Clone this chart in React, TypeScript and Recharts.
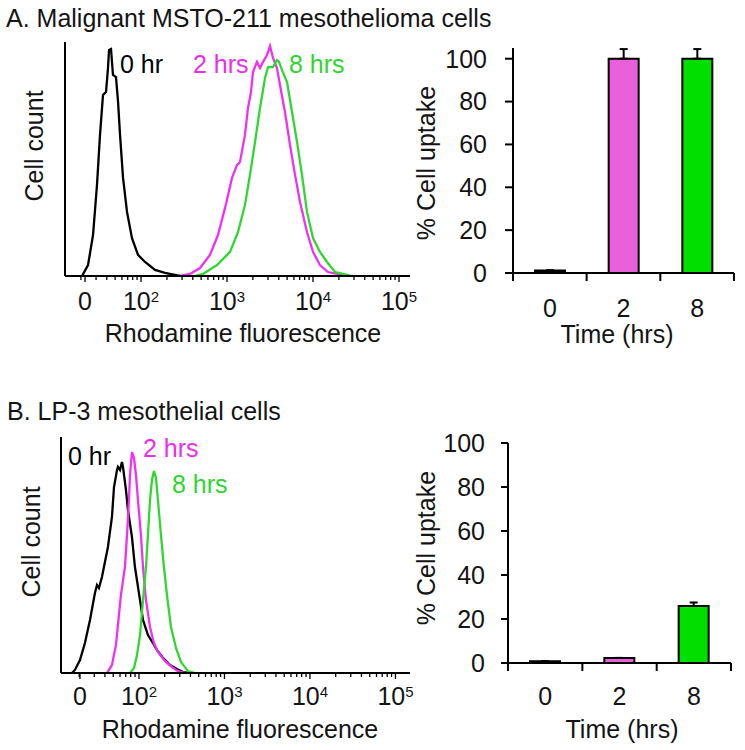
import React from 'react';
import { LineChart, Line, XAxis, YAxis, BarChart, Bar, Cell, ErrorBar } from 'recharts';

const FONT = '"Liberation Sans", Arial, Helvetica, sans-serif';
const INK = '#141414';
const FS = 25;

// Flow histograms: x is the display position in decades (2 = 10^2 ...), y = % of peak height
// Panel A, MSTO-211
const a0hrX = [1.314, 1.384, 1.442, 1.488, 1.523, 1.558, 1.593, 1.616, 1.628, 1.651, 1.674, 1.709, 1.733, 1.756, 1.791, 1.837, 1.895, 1.965, 2.047, 2.163, 2.279, 2.453];
const a0hrY = [0, 4.7, 17.5, 38.9, 60.3, 77.4, 78.6, 88.9, 96.6, 97.0, 85.9, 85.0, 74.4, 60.3, 41.9, 27.4, 16.2, 9.0, 6.0, 2.6, 1.3, 0];
const a2hrX = [2.453, 2.57, 2.686, 2.802, 2.895, 2.977, 3.058, 3.116, 3.151, 3.209, 3.244, 3.279, 3.302, 3.349, 3.384, 3.419, 3.465, 3.5, 3.535, 3.581, 3.616, 3.674, 3.733, 3.791, 3.849, 3.93, 4.0, 4.081, 4.174, 4.279, 4.372];
const a2hrY = [0, 0.9, 3.4, 9.0, 17.5, 29.1, 41.9, 47.4, 48.7, 60.3, 71.8, 78.6, 87.2, 91.5, 88.9, 91.5, 94.4, 98.3, 93.2, 88.9, 81.6, 70.1, 56.0, 43.2, 31.6, 18.8, 10.3, 4.7, 1.7, 0.9, 0];
const a8hrX = [2.628, 2.721, 2.884, 3.035, 3.128, 3.209, 3.267, 3.326, 3.384, 3.442, 3.477, 3.535, 3.581, 3.605, 3.64, 3.698, 3.756, 3.814, 3.872, 3.93, 4.0, 4.081, 4.163, 4.256, 4.349, 4.453];
const a8hrY = [0, 0.9, 4.7, 10.3, 18.8, 30.3, 43.2, 57.3, 71.8, 84.6, 89.3, 89.3, 92.3, 91.5, 88.0, 82.9, 70.1, 57.3, 43.2, 27.4, 16.2, 10.3, 6.0, 1.7, 0.9, 0];

// Panel B, LP-3
const b0hrX = [1.216, 1.251, 1.31, 1.368, 1.427, 1.485, 1.509, 1.532, 1.567, 1.602, 1.637, 1.684, 1.708, 1.743, 1.754, 1.778, 1.801, 1.813, 1.848, 1.871, 1.918, 1.953, 2.012, 2.047, 2.105, 2.164, 2.211, 2.281, 2.363, 2.444, 2.515, 2.596];
const b0hrY = [0, 1.3, 5.5, 12.7, 22.5, 33.9, 37.3, 36.0, 40.7, 47.0, 53.4, 66.1, 78.8, 86.0, 87.3, 86.0, 89.4, 87.3, 77.5, 69.1, 57.6, 44.9, 30.9, 22.5, 16.1, 12.7, 9.7, 6.4, 3.4, 1.7, 0.4, 0];
const b2hrX = [1.626, 1.684, 1.731, 1.754, 1.789, 1.836, 1.86, 1.883, 1.895, 1.918, 1.942, 1.965, 1.988, 2.023, 2.047, 2.082, 2.129, 2.175, 2.222, 2.304, 2.386, 2.456, 2.538];
const b2hrY = [0, 3.4, 11.9, 20.3, 33.1, 44.9, 58.5, 73.3, 83.9, 93.6, 91.1, 83.9, 73.3, 58.5, 44.9, 30.9, 19.5, 12.7, 8.9, 5.1, 2.5, 0.8, 0];
const b8hrX = [1.895, 1.942, 1.977, 2.012, 2.047, 2.082, 2.105, 2.129, 2.152, 2.175, 2.199, 2.222, 2.257, 2.292, 2.327, 2.374, 2.433, 2.491, 2.573, 2.655];
const b8hrY = [0, 2.1, 7.6, 16.1, 30.9, 44.9, 58.5, 73.3, 81.8, 85.6, 82.6, 73.3, 58.5, 44.9, 33.1, 19.5, 10.6, 4.7, 0.8, 0];

// Uptake bars
const timeCats = ['0', '2', '8'];
const uptakeA = [1.2, 100, 100];
const uptakeErrA = [0, 4.5, 4.5];
const uptakeB = [0.8, 2.3, 25.9];
const uptakeErrB = [0, 0, 1.6];
const uptakeTicks = [0, 20, 40, 60, 80, 100];

const decadeExps = [2, 3, 4, 5];
const zeroPosA = 1.349;
const zeroPosB = 1.31;

const lineColors = ['#000000', '#f032f0', '#2fd82f'];
const barColors = ['#000000', '#ea5fdb', '#00e000'];

const zip = (xs: number[], ys: number[]) => xs.map((x, i) => ({ x, y: ys[i] }));

function minorTicks(lo: number, hi: number) {
  const out: number[] = [];
  for (let d = 1; d < 5; d++) {
    for (let k = 2; k < 10; k++) {
      const v = d + Math.log10(k);
      if (v > lo && v < hi) out.push(v);
    }
  }
  return out;
}

function FluorTick({ x, y, payload, zero, labelDy }: any) {
  const v = payload.value;
  const isZero = Math.abs(v - zero) < 1e-6;
  const isDecade = decadeExps.includes(v);
  const major = isZero || isDecade;
  return (
    <g>
      <line x1={x} x2={x} y1={y} y2={y + (major ? 6 : 4)} stroke="#000" strokeWidth={1.3} />
      {isZero && (
        <text x={x} y={y + labelDy} textAnchor="middle" fontSize={FS} fill={INK} fontFamily={FONT}>0</text>
      )}
      {isDecade && (
        <text x={x} y={y + labelDy} textAnchor="middle" fontSize={FS} fill={INK} fontFamily={FONT}>
          10<tspan dy={-8} fontSize={15}>{v}</tspan>
        </text>
      )}
    </g>
  );
}

function TimeTick({ x, y, payload, index, half, labelDy }: any) {
  return (
    <g>
      {index === 0 && <line x1={x - half} x2={x - half} y1={y} y2={y + 8} stroke="#000" strokeWidth={2} />}
      <line x1={x + half} x2={x + half} y1={y} y2={y + 8} stroke="#000" strokeWidth={2} />
      <text x={x} y={y + labelDy} textAnchor="middle" fontSize={FS} fill={INK} fontFamily={FONT}>{payload.value}</text>
    </g>
  );
}

// axis title drawn at a fixed spot of the chart; props named px/py so recharts' label props don't override them
function AxisTitle({ text, px, py, vertical }: any) {
  return (
    <text
      transform={`translate(${px},${py})${vertical ? ' rotate(-90)' : ''}`}
      textAnchor="middle"
      fontSize={FS}
      fill={INK}
      fontFamily={FONT}
    >
      {text}
    </text>
  );
}

function Histogram({ series, zero, domain, height, top, left, xAxisH, labelDy, yTitle, xTitle }: any) {
  const ticks = [zero, ...decadeExps, ...minorTicks(domain[0], domain[1])];
  return (
    <LineChart width={430} height={height} margin={{ top, right: 20, left: 0, bottom: 0 }}>
      <XAxis
        type="number"
        dataKey="x"
        domain={domain}
        allowDataOverflow
        ticks={ticks}
        interval={0}
        height={xAxisH}
        tickLine={false}
        tickSize={0}
        tickMargin={0}
        axisLine={{ stroke: '#000', strokeWidth: 2 }}
        tick={(p: any) => <FluorTick {...p} zero={zero} labelDy={labelDy} />}
        label={<AxisTitle text="Rhodamine fluorescence" px={xTitle[0]} py={xTitle[1]} />}
      />
      <YAxis
        type="number"
        domain={[0, 100]}
        allowDataOverflow
        width={left}
        tick={false}
        tickLine={false}
        axisLine={{ stroke: '#000', strokeWidth: 2 }}
        label={<AxisTitle text="Cell count" px={yTitle[0]} py={yTitle[1]} vertical />}
      />
      {series.map((s: any, i: number) => (
        <Line
          key={i}
          data={s}
          dataKey="y"
          type="linear"
          stroke={lineColors[i]}
          strokeWidth={2.3}
          dot={false}
          activeDot={false}
          isAnimationActive={false}
        />
      ))}
    </LineChart>
  );
}

function UptakeBars({ values, errs, yMax, top, left, right, tickSize, tickMargin, half, labelDy, yTitle, xTitle }: any) {
  const rows = timeCats.map((t, i) => ({ t, v: values[i], e: [0, errs[i]] }));
  return (
    <BarChart width={345} height={360} data={rows} margin={{ top, right, left: 0, bottom: 0 }}>
      <XAxis
        dataKey="t"
        height={87}
        interval={0}
        tickLine={false}
        tickSize={0}
        tickMargin={0}
        axisLine={{ stroke: '#000', strokeWidth: 2 }}
        tick={(p: any) => <TimeTick {...p} half={half} labelDy={labelDy} />}
        label={<AxisTitle text="Time (hrs)" px={xTitle[0]} py={xTitle[1]} />}
      />
      <YAxis
        type="number"
        domain={[0, yMax]}
        ticks={uptakeTicks}
        interval={0}
        width={left}
        tickSize={tickSize}
        tickMargin={tickMargin}
        tickLine={{ stroke: '#000', strokeWidth: 2 }}
        axisLine={{ stroke: '#000', strokeWidth: 2 }}
        tick={{ fontSize: FS, fill: INK, fontFamily: FONT }}
        label={<AxisTitle text="% Cell uptake" px={yTitle[0]} py={yTitle[1]} vertical />}
      />
      <Bar dataKey="v" barSize={30} stroke="#000" strokeWidth={2} isAnimationActive={false}>
        {rows.map((r, i) => (
          <Cell key={r.t} fill={barColors[i]} />
        ))}
        <ErrorBar dataKey="e" direction="y" width={4} stroke="#000" strokeWidth={2} />
      </Bar>
    </BarChart>
  );
}

export default function App() {
  const abs = (left: number, top: number) => ({ position: 'absolute' as const, left, top });
  return (
    <div style={{ position: 'absolute', left: 0, top: 0, width: 745, height: 750, background: '#fff', fontFamily: FONT, overflow: 'hidden' }}>
      <div style={abs(0, 0)}>
        <Histogram
          series={[zip(a0hrX, a0hrY), zip(a2hrX, a2hrY), zip(a8hrX, a8hrY)]}
          zero={zeroPosA}
          domain={[1.116, 5.128]}
          height={360}
          top={42}
          left={65}
          xAxisH={84}
          labelDy={34}
          yTitle={[43, 146]}
          xTitle={[243, 342]}
        />
      </div>
      <div style={abs(0, 390)}>
        <Histogram
          series={[zip(b0hrX, b0hrY), zip(b2hrX, b2hrY), zip(b8hrX, b8hrY)]}
          zero={zeroPosB}
          domain={[1.088, 5.17]}
          height={360}
          top={47}
          left={61}
          xAxisH={77}
          labelDy={32}
          yTitle={[40, 152]}
          xTitle={[240, 348]}
        />
      </div>
      <div style={abs(400, 0)}>
        <UptakeBars
          values={uptakeA}
          errs={uptakeErrA}
          yMax={105}
          top={48}
          left={113}
          right={11}
          tickSize={8}
          tickMargin={18}
          half={36.8}
          labelDy={44}
          yTitle={[35, 163]}
          xTitle={[217, 343]}
        />
      </div>
      <div style={abs(400, 390)}>
        <UptakeBars
          values={uptakeB}
          errs={uptakeErrB}
          yMax={100}
          top={53}
          left={108}
          right={14}
          tickSize={7}
          tickMargin={16}
          half={37.2}
          labelDy={42}
          yTitle={[35, 158]}
          xTitle={[222, 348]}
        />
      </div>
      <svg width={745} height={750} style={{ position: 'absolute', left: 0, top: 0, pointerEvents: 'none' }} fontFamily={FONT} fontSize={FS}>
        <text x={6} y={27} fill={INK}>A. Malignant MSTO-211 mesothelioma cells</text>
        <text x={7} y={420} fill={INK}>B. LP-3 mesothelial cells</text>
        <text x={120} y={73} fill="#000">0 hr</text>
        <text x={193} y={73} fill="#ea2fea">2 hrs</text>
        <text x={289} y={73} fill="#2fd52f">8 hrs</text>
        <text x={68} y={465} fill="#000">0 hr</text>
        <text x={143} y={457} fill="#ea2fea">2 hrs</text>
        <text x={172} y={493} fill="#2fd52f">8 hrs</text>
      </svg>
    </div>
  );
}
